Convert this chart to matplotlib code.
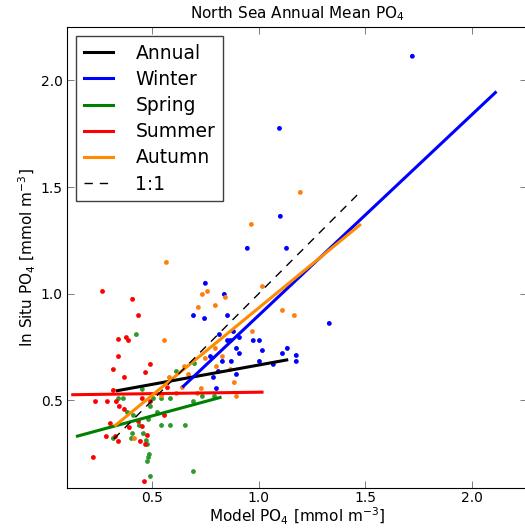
import numpy as np
import matplotlib
matplotlib.use("Agg")
import matplotlib.pyplot as plt

# model vs in situ PO4
winter_x = [1.722, 1.098, 1.102, 1.131, 0.947, 1.332, 1.135, 0.694, 0.750, 0.839,
            0.854, 0.746, 0.816, 0.882, 0.910, 0.854, 0.868, 0.975, 1.004, 0.896,
            0.910, 1.018, 1.112, 1.177, 1.177, 1.069, 1.004, 0.872, 0.830, 0.774,
            0.811, 0.896, 0.788, 0.802]
winter_y = [2.113, 1.775, 1.363, 1.213, 1.213, 0.861, 0.744, 0.898, 1.049, 0.997,
            0.898, 0.884, 0.809, 0.823, 0.795, 0.781, 0.781, 0.781, 0.781, 0.744,
            0.720, 0.734, 0.720, 0.711, 0.683, 0.669, 0.683, 0.683, 0.683, 0.706,
            0.636, 0.622, 0.608, 0.556]

spring_x = [0.426, 0.614, 0.699, 0.454, 0.342, 0.365, 0.492, 0.506, 0.544, 0.586,
            0.525, 0.384, 0.412, 0.483, 0.440, 0.544, 0.586, 0.656, 0.408, 0.459,
            0.403, 0.318, 0.473, 0.478, 0.487, 0.483, 0.478, 0.694, 0.492, 0.736,
            0.793, 0.694]
spring_y = [0.809, 0.636, 0.673, 0.552, 0.509, 0.509, 0.472, 0.509, 0.509, 0.509,
            0.444, 0.444, 0.430, 0.411, 0.383, 0.383, 0.383, 0.383, 0.345, 0.345,
            0.322, 0.322, 0.312, 0.294, 0.247, 0.233, 0.214, 0.167, 0.144, 0.519,
            0.519, 0.495]

summer_x = [0.267, 0.408, 0.436, 0.342, 0.379, 0.389, 0.342, 0.318, 0.492, 0.469,
            0.370, 0.318, 0.234, 0.290, 0.332, 0.346, 0.370, 0.454, 0.492, 0.558,
            0.304, 0.393, 0.436, 0.454, 0.285, 0.328, 0.342, 0.478, 0.445, 0.469,
            0.224, 0.464, 0.572]
summer_y = [1.011, 0.974, 0.898, 0.786, 0.795, 0.781, 0.706, 0.645, 0.669, 0.631,
            0.608, 0.547, 0.495, 0.495, 0.495, 0.472, 0.458, 0.509, 0.495, 0.430,
            0.392, 0.373, 0.402, 0.378, 0.331, 0.331, 0.308, 0.336, 0.308, 0.294,
            0.233, 0.120, 0.560]

autumn_x = [1.196, 0.966, 0.567, 0.558, 0.717, 1.018, 0.736, 0.760, 0.844, 0.797,
            1.112, 1.168, 0.971, 0.797, 0.830, 0.750, 0.802, 0.868, 0.652, 0.671,
            0.731, 0.886, 0.896, 0.417, 0.581, 0.642, 0.614, 0.544, 0.713]
autumn_y = [1.475, 1.325, 1.147, 0.781, 0.936, 1.034, 0.997, 1.011, 0.983, 0.945,
            0.922, 0.898, 0.823, 0.744, 0.706, 0.697, 0.659, 0.645, 0.659, 0.622,
            0.556, 0.584, 0.519, 0.322, 0.608, 0.561, 0.533, 0.523, 0.533]

# regression line end points
fit_x = {'Annual': [0.337, 1.132], 'Winter': [0.647, 2.112], 'Spring': [0.149, 0.819],
         'Summer': [0.127, 1.016], 'Autumn': [0.328, 1.475]}
fit_y = {'Annual': [0.546, 0.690], 'Winter': [0.567, 1.943], 'Spring': [0.333, 0.514],
         'Summer': [0.527, 0.539], 'Autumn': [0.384, 1.322]}
one_to_one = [0.32, 1.47]

plt.rcParams['xtick.direction'] = 'in'
plt.rcParams['ytick.direction'] = 'in'

fig = plt.figure(figsize=(5.25, 5.28), dpi=100)
ax = fig.add_axes([0.1276, 0.0758, 0.876, 0.873])

dots = [(winter_x, winter_y, 'blue'), (spring_x, spring_y, '#2e9a2e'),
        (summer_x, summer_y, 'red'), (autumn_x, autumn_y, '#ff7f0e')]
for xs, ys, c in dots:
    ax.scatter(xs, ys, s=12, color=c, edgecolors='none', zorder=2)

line_cols = {'Annual': 'black', 'Winter': 'blue', 'Spring': 'green',
             'Summer': 'red', 'Autumn': 'darkorange'}
for name in ['Annual', 'Winter', 'Spring', 'Summer', 'Autumn']:
    ax.plot(fit_x[name], fit_y[name], color=line_cols[name], lw=2.2,
            label=name, zorder=3)
ax.plot(one_to_one, one_to_one, 'k--', lw=1.0, dashes=(6, 5), label='1:1', zorder=3)

ax.set_xlim(0.1, 2.26)
ax.set_ylim(0.09, 2.25)
ax.set_xticks([0.5, 1.0, 1.5, 2.0])
ax.set_yticks([0.5, 1.0, 1.5, 2.0])
ax.tick_params(top=True, right=True, labelsize=10, length=5, width=0.6, color='0.4')
ax.tick_params(axis='x', pad=2)
ax.tick_params(axis='y', pad=3)

ax.set_xlabel('Model PO$_4$ [mmol m$^{-3}$]', fontsize=11, labelpad=1)
ax.set_ylabel('In Situ PO$_4$ [mmol m$^{-3}$]', fontsize=11, labelpad=2)
ax.set_title('North Sea Annual Mean PO$_4$', fontsize=11, pad=6)

leg = ax.legend(loc='upper left', fontsize=13.5, handlelength=1.55, handletextpad=1.2,
                labelspacing=0.38, borderaxespad=0.5, borderpad=0.4,
                fancybox=False, framealpha=1, edgecolor='0.25')
leg.get_frame().set_linewidth(1.0)

fig.savefig('out.png', dpi=100)
